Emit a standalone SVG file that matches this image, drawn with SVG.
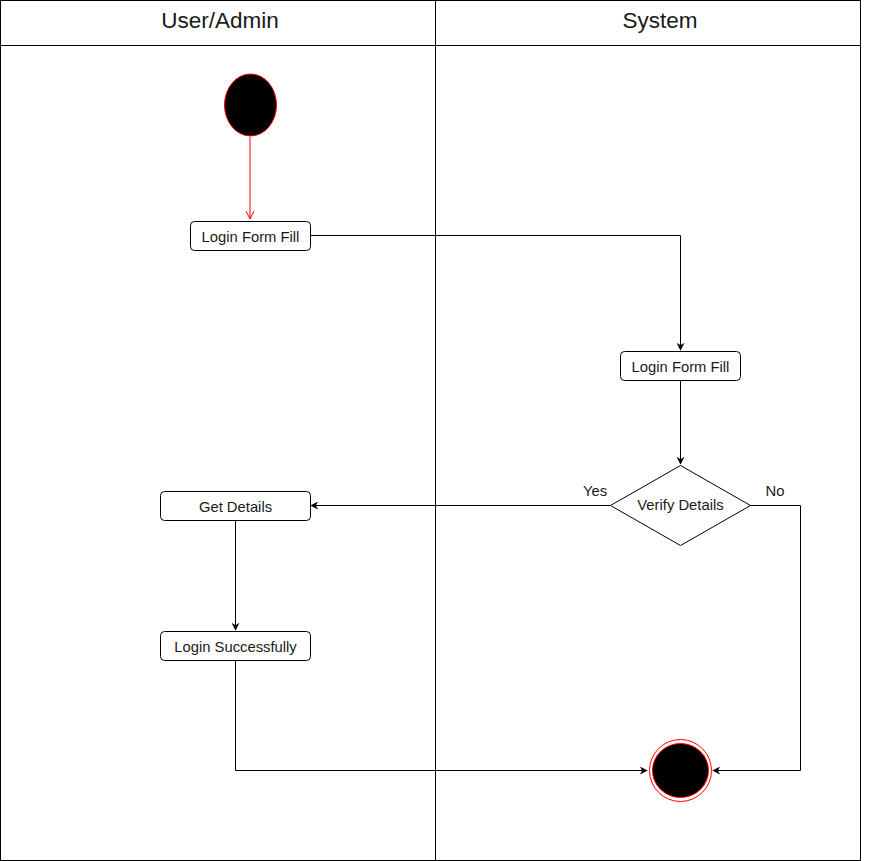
<svg xmlns="http://www.w3.org/2000/svg" width="881" height="861" viewBox="0 0 881 861">
  <style>
    .lane { fill: none; stroke: #000; stroke-width: 1; }
    .head { font-family: "Liberation Sans", Arial, sans-serif; font-size: 22.5px; fill: #1a1a1a; text-anchor: middle; }
    .box { fill: #fff; stroke: #000; stroke-width: 1; }
    .lbl { font-family: "Liberation Sans", Arial, sans-serif; font-size: 14.8px; fill: #1a1a1a; text-anchor: middle; dominant-baseline: central; }
    .edge { fill: none; stroke: #000; stroke-width: 1; }
    .edge-red { fill: none; stroke: #ff0000; stroke-width: 1; }
  </style>
  <defs>
    <marker id="arrow" viewBox="0 0 10 10" refX="9" refY="5" markerWidth="8" markerHeight="8" markerUnits="userSpaceOnUse" orient="auto">
      <path d="M0,0 L10,5 L0,10 L3,5 Z" fill="#000"/>
    </marker>
    <marker id="openRed" viewBox="0 0 10 10" refX="9" refY="5" markerWidth="10" markerHeight="10" markerUnits="userSpaceOnUse" orient="auto">
      <path d="M1,1 L9,5 L1,9" fill="none" stroke="#ff0000" stroke-width="1"/>
    </marker>
  </defs>
  <rect width="881" height="861" fill="#fff"/>

  <!-- swimlanes -->
  <g id="lanes">
    <rect class="lane" x="0.5" y="0.5" width="860" height="860"/>
    <line class="lane" x1="0.5" y1="45.5" x2="860.5" y2="45.5"/>
    <line class="lane" x1="435.5" y1="0.5" x2="435.5" y2="860.5"/>
    <text class="head" x="220" y="28">User/Admin</text>
    <text class="head" x="660" y="28">System</text>
  </g>

  <!-- connectors -->
  <g id="connectors">
    <path class="edge-red" d="M250,137 V219" marker-end="url(#openRed)"/>
    <path class="edge" d="M311,235.5 H680.5 V350" marker-end="url(#arrow)"/>
    <path class="edge" d="M680.5,380 V464" marker-end="url(#arrow)"/>
    <path class="edge" d="M610,505.5 H311" marker-end="url(#arrow)"/>
    <path class="edge" d="M750,505.5 H800.5 V770.5 H713" marker-end="url(#arrow)"/>
    <path class="edge" d="M235.5,520 V630" marker-end="url(#arrow)"/>
    <path class="edge" d="M235.5,660 V770.5 H647" marker-end="url(#arrow)"/>
    <text class="lbl" x="595" y="491">Yes</text>
    <text class="lbl" x="775" y="491">No</text>
  </g>

  <g id="start">
    <ellipse cx="250.5" cy="105" rx="26" ry="31" fill="#000" stroke="#ff0000" stroke-width="1"/>
  </g>

  <g id="login-form-user">
    <rect class="box" x="190.5" y="221.5" width="120" height="29" rx="4"/>
    <text class="lbl" x="250.5" y="237">Login Form Fill</text>
  </g>

  <g id="login-form-system">
    <rect class="box" x="620.5" y="351.5" width="120" height="29" rx="4"/>
    <text class="lbl" x="680.5" y="367">Login Form Fill</text>
  </g>

  <g id="verify">
    <polygon class="box" points="680.5,465.5 750.5,505.5 680.5,545.5 610.5,505.5"/>
    <text class="lbl" x="680.5" y="505">Verify Details</text>
  </g>

  <g id="get-details">
    <rect class="box" x="160.5" y="491.5" width="150" height="29" rx="4"/>
    <text class="lbl" x="235.5" y="507">Get Details</text>
  </g>

  <g id="login-success">
    <rect class="box" x="160.5" y="631.5" width="150" height="29" rx="4"/>
    <text class="lbl" x="235.5" y="647">Login Successfully</text>
  </g>

  <g id="end">
    <circle cx="680.5" cy="770.5" r="31" fill="#fff" stroke="#ff0000" stroke-width="1"/>
    <ellipse cx="680.5" cy="770.5" rx="28" ry="27" fill="#000" stroke="#ff0000" stroke-width="1"/>
  </g>
</svg>
